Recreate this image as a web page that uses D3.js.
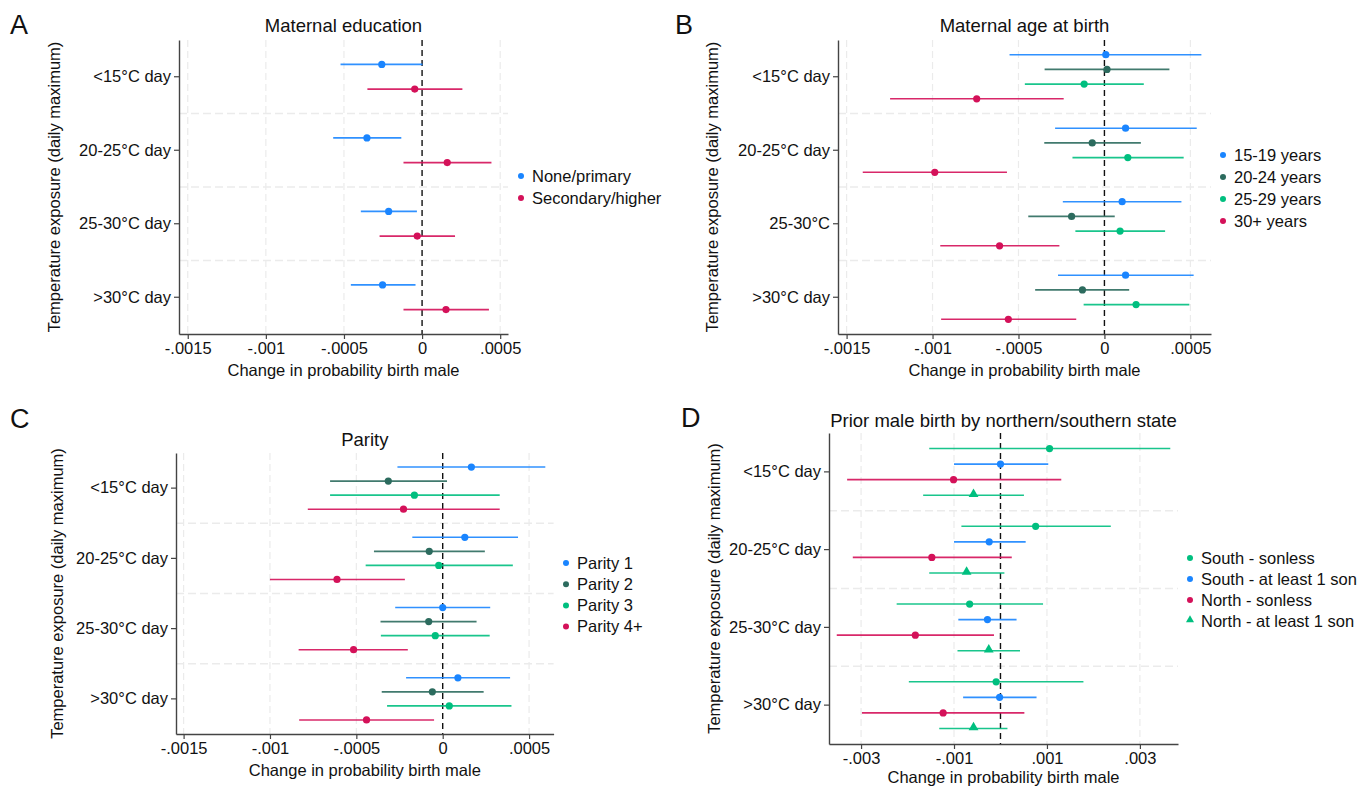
<!DOCTYPE html>
<html><head><meta charset="utf-8">
<script src="https://cdn.jsdelivr.net/npm/d3@7"></script>
<style>
body{margin:0;background:#fff}
svg{display:block}
text{font-family:"Liberation Sans",Arial,Helvetica,sans-serif;fill:#111}
</style>
</head><body>
<svg id="chart" width="1360" height="786"></svg>
<script>
// ---------- data ----------
const tempCats  = ["<15°C day","20-25°C day","25-30°C day",">30°C day"];
const tempCatsB = ["<15°C day","20-25°C day","25-30°C",">30°C day"];

const smallTicks = [-0.0015,-0.001,-0.0005,0,0.0005];
const smallTickLabels = ["-.0015","-.001","-.0005","0",".0005"];
const wideTicks = [-0.003,-0.001,0.001,0.003];
const wideTickLabels = ["-.003","-.001",".001",".003"];

// Panel A: maternal education (rows = series, cols = temperature categories)
const eduSeries = ["None/primary","Secondary/higher"];
const eduEst = [[-0.000258,-0.000353,-0.000214,-0.000253],[-0.000047,0.000161,-0.000031,0.000153]];
const eduLo  = [[-0.000522,-0.000569,-0.000392,-0.000456],[-0.000350,-0.000119,-0.000272,-0.000119]];
const eduHi  = [[ 0.000003,-0.000133,-0.000033,-0.000042],[ 0.000258, 0.000444, 0.000211, 0.000428]];

// Panel B: maternal age at birth
const ageSeries = ["15-19 years","20-24 years","25-29 years","30+ years"];
const ageEst = [[ 0.000008, 0.000123, 0.000103, 0.000123],
                [ 0.000015,-0.000071,-0.000191,-0.000128],
                [-0.000118, 0.000136, 0.000091, 0.000184],
                [-0.000743,-0.000987,-0.000610,-0.000559]];
const ageLo  = [[-0.000552,-0.000287,-0.000242,-0.000270],
                [-0.000348,-0.000350,-0.000443,-0.000403],
                [-0.000463,-0.000186,-0.000169,-0.000121],
                [-0.001247,-0.001406,-0.000955,-0.000950]];
const ageHi  = [[ 0.000564, 0.000537, 0.000448, 0.000519],
                [ 0.000378, 0.000212, 0.000060, 0.000144],
                [ 0.000229, 0.000461, 0.000353, 0.000494],
                [-0.000237,-0.000567,-0.000262,-0.000164]];

// Panel C: parity
const parSeries = ["Parity 1","Parity 2","Parity 3","Parity 4+"];
const parEst = [[ 0.000166, 0.000128, 0.000000, 0.000088],
                [-0.000315,-0.000078,-0.000081,-0.000060],
                [-0.000164,-0.000023,-0.000043, 0.000038],
                [-0.000227,-0.000612,-0.000516,-0.000441]];
const parLo  = [[-0.000262,-0.000176,-0.000275,-0.000212],
                [-0.000652,-0.000398,-0.000360,-0.000353],
                [-0.000652,-0.000446,-0.000358,-0.000322],
                [-0.000781,-0.001000,-0.000834,-0.000831]];
const parHi  = [[ 0.000594, 0.000436, 0.000275, 0.000390],
                [ 0.000025, 0.000244, 0.000196, 0.000237],
                [ 0.000330, 0.000406, 0.000272, 0.000398],
                [ 0.000330,-0.000219,-0.000202,-0.000050]];

// Panel D: prior male birth by northern/southern state
const sonSeries = ["South - sonless","South - at least 1 son","North - sonless","North - at least 1 son"];
const sonEst = [[ 0.001056, 0.000757,-0.000664,-0.000094],
                [ 0.000000,-0.000243,-0.000280,-0.000019],
                [-0.001010,-0.001477,-0.001832,-0.001234],
                [-0.000580,-0.000729,-0.000252,-0.000580]];
const sonLo  = [[-0.001533,-0.000841,-0.002234,-0.001972],
                [-0.001000,-0.001000,-0.000907,-0.000804],
                [-0.003300,-0.003178,-0.003523,-0.002981],
                [-0.001664,-0.001533,-0.000925,-0.001318]];
const sonHi  = [[ 0.003654, 0.002374, 0.000916, 0.001785],
                [ 0.001028, 0.000542, 0.000346, 0.000776],
                [ 0.001308, 0.000243,-0.000140, 0.000514],
                [ 0.000505, 0.000084, 0.000420, 0.000150]];

// ---------- styles ----------
const BLUE = "#1a85ff", DARK = "#2c6b5e", GREEN = "#00bf7f", RED = "#d41159";
const FONT = '"Liberation Sans",Arial,Helvetica,sans-serif';

const svg = d3.select("#chart");

function panel(c) {
  const g = svg.append("g");
  const x = d3.scaleLinear().domain(c.domain).range([c.x0, c.x1]);
  const y = d3.scaleBand().domain(c.cats).range([c.y0, c.y1]).padding(0);
  const bw = y.bandwidth();
  const n = c.series.length;
  const off = d3.scalePoint().domain(d3.range(n)).range([-c.spread * bw / 2, c.spread * bw / 2]);

  // vertical gridlines
  g.append("g").selectAll("line").data(c.ticks.filter(t => t !== 0)).join("line")
    .attr("x1", d => x(d)).attr("x2", d => x(d))
    .attr("y1", c.y0).attr("y2", c.y1)
    .attr("stroke", "#ebebeb").attr("stroke-width", 1.2).attr("stroke-dasharray", "7,4");
  // horizontal separators
  g.append("g").selectAll("line").data(c.cats.slice(1)).join("line")
    .attr("x1", c.x0).attr("x2", c.x1)
    .attr("y1", d => y(d)).attr("y2", d => y(d))
    .attr("stroke", "#ebebeb").attr("stroke-width", 1.5).attr("stroke-dasharray", "8,4");
  // zero line
  g.append("line").attr("x1", x(0)).attr("x2", x(0)).attr("y1", c.y0).attr("y2", c.y1)
    .attr("stroke", "#111").attr("stroke-width", 1.4).attr("stroke-dasharray", "6,4");

  // CIs and points
  c.series.forEach((s, si) => {
    const sg = g.append("g");
    const rows = c.cats.map((cat, ci) => ({cat, est: c.est[si][ci], lo: c.lo[si][ci], hi: c.hi[si][ci]}));
    const yy = d => y(d.cat) + bw / 2 + off(si);
    sg.selectAll("line").data(rows).join("line")
      .attr("x1", d => x(d.lo)).attr("x2", d => x(d.hi))
      .attr("y1", yy).attr("y2", yy)
      .attr("stroke", c.colors[si]).attr("stroke-width", 1.6).attr("stroke-opacity", 0.9);
    if (c.shapes[si] === "tri") {
      sg.selectAll("path").data(rows).join("path")
        .attr("d", d3.symbol(d3.symbolTriangle).size(42))
        .attr("transform", d => `translate(${x(d.est)},${yy(d) - 1})`)
        .attr("fill", c.colors[si]);
    } else {
      sg.selectAll("circle").data(rows).join("circle")
        .attr("cx", d => x(d.est)).attr("cy", yy).attr("r", 3.6)
        .attr("fill", c.colors[si]);
    }
  });

  // axes
  const ax = g.append("g").attr("transform", `translate(0,${c.y1})`)
    .call(d3.axisBottom(x).tickValues(c.ticks).tickFormat((d, i) => c.tickLabels[i])
      .tickSize(5).tickPadding(3).tickSizeOuter(0));
  const ay = g.append("g").attr("transform", `translate(${c.x0},0)`)
    .call(d3.axisLeft(y).tickSize(5).tickPadding(3).tickSizeOuter(0));
  [ax, ay].forEach(a => {
    a.attr("font-family", FONT).attr("font-size", 16.5);
    a.select(".domain").attr("stroke", "#444").attr("stroke-width", 1.4);
    a.selectAll(".tick line").attr("stroke", "#444").attr("stroke-width", 1.2);
    a.selectAll(".tick text").attr("fill", "#111");
  });

  // titles
  g.append("text").attr("x", (c.x0 + c.x1) / 2).attr("y", c.titleY)
    .attr("text-anchor", "middle").attr("font-size", 18.5).text(c.title);
  g.append("text").attr("x", (c.x0 + c.x1) / 2).attr("y", c.xtitleY)
    .attr("text-anchor", "middle").attr("font-size", 16.5).text("Change in probability birth male");
  g.append("text").attr("transform", `translate(${c.ytitleX},${(c.y0 + c.y1) / 2}) rotate(-90)`)
    .attr("text-anchor", "middle").attr("font-size", 16.5).text("Temperature exposure (daily maximum)");
  g.append("text").attr("x", c.letterX).attr("y", c.letterY)
    .attr("font-size", 27).text(c.letter);

  // legend
  const lg = g.append("g");
  c.series.forEach((s, si) => {
    const ly = c.legY + si * c.legStep;
    if (c.shapes[si] === "tri") {
      lg.append("path").attr("d", d3.symbol(d3.symbolTriangle).size(28))
        .attr("transform", `translate(${c.legX},${ly - 1})`).attr("fill", c.colors[si]);
    } else {
      lg.append("circle").attr("cx", c.legX).attr("cy", ly).attr("r", 3).attr("fill", c.colors[si]);
    }
    lg.append("text").attr("x", c.legX + 11).attr("y", ly).attr("dy", "0.35em")
      .attr("font-size", 16.5).text(s);
  });
}

panel({
  x0: 179, x1: 508, y0: 40, y1: 334, domain: [-0.001556, 0.00055],
  ticks: smallTicks, tickLabels: smallTickLabels, cats: tempCats,
  series: eduSeries, est: eduEst, lo: eduLo, hi: eduHi,
  colors: [BLUE, RED], shapes: ["c","c"], spread: 0.336,
  title: "Maternal education", titleY: 32, xtitleY: 376, ytitleX: 60,
  letter: "A", letterX: 10, letterY: 34, legX: 521, legY: 176, legStep: 22
});
panel({
  x0: 838, x1: 1211, y0: 40, y1: 334, domain: [-0.00155, 0.00062],
  ticks: smallTicks, tickLabels: smallTickLabels, cats: tempCatsB,
  series: ageSeries, est: ageEst, lo: ageLo, hi: ageHi,
  colors: [BLUE, DARK, GREEN, RED], shapes: ["c","c","c","c"], spread: 0.6,
  title: "Maternal age at birth", titleY: 32, xtitleY: 376, ytitleX: 718,
  letter: "B", letterX: 675, letterY: 34, legX: 1223, legY: 155, legStep: 22
});
panel({
  x0: 176, x1: 553.6, y0: 453, y1: 734, domain: [-0.001544, 0.000642],
  ticks: smallTicks, tickLabels: smallTickLabels, cats: tempCats,
  series: parSeries, est: parEst, lo: parLo, hi: parHi,
  colors: [BLUE, DARK, GREEN, RED], shapes: ["c","c","c","c"], spread: 0.6,
  title: "Parity", titleY: 446, xtitleY: 776, ytitleX: 63,
  letter: "C", letterX: 10, letterY: 428, legX: 566, legY: 563, legStep: 21.2
});
panel({
  x0: 829, x1: 1178, y0: 433, y1: 744, domain: [-0.00369, 0.00382],
  ticks: wideTicks, tickLabels: wideTickLabels, cats: tempCats,
  series: sonSeries, est: sonEst, lo: sonLo, hi: sonHi,
  colors: [GREEN, BLUE, RED, GREEN], shapes: ["c","c","c","tri"], spread: 0.6,
  title: "Prior male birth by northern/southern state", titleY: 427, xtitleY: 783, ytitleX: 720,
  letter: "D", letterX: 681, letterY: 427, legX: 1190, legY: 558, legStep: 21
});
</script>
</body></html>
